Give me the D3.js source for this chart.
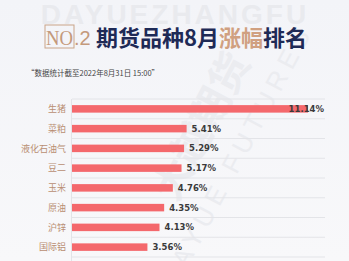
<!DOCTYPE html>
<html lang="zh">
<head>
<meta charset="UTF-8">
<title>期货品种8月涨幅排名</title>
<script src="https://d3js.org/d3.v7.min.js"></script>
<style>
    body { margin:0; background:#f5f6f9; }
    svg { display:block; }
</style>
</head>
<body>
<script>
// 数据
var categories = ['生猪','菜粕','液化石油气','豆二','玉米','原油','沪锌','国际铝'];
var values = [11.14, 5.41, 5.29, 5.17, 4.76, 4.35, 4.13, 3.56];

var width = 349, height = 261;
var padding = {top:99, left:72, right:24, bottom:4};

var svg = d3.select('body').append('svg')
    .attr('width', width)
    .attr('height', height);

// 背景
var grad = svg.append('defs').append('linearGradient')
    .attr('id','bg').attr('x1',0).attr('y1',0).attr('x2',0).attr('y2',1);
grad.append('stop').attr('offset','0%').attr('stop-color','#f3f4f8');
grad.append('stop').attr('offset','100%').attr('stop-color','#f8f8fa');
svg.append('rect').attr('width',width).attr('height',height).attr('fill','url(#bg)');

// 水印
svg.append('text')
    .attr('x', 175).attr('y', 24)
    .attr('text-anchor','middle')
    .attr('font-family','Liberation Sans, sans-serif')
    .attr('font-weight','bold')
    .attr('font-size', 28)
    .attr('letter-spacing', 3)
    .attr('fill','#e9eaee')
    .text('DAYUEZHANGFU');

var wm = svg.append('g').attr('transform','translate(225,150) rotate(-62)');
wm.append('text')
    .attr('text-anchor','middle')
    .attr('font-family','Noto Sans CJK SC, sans-serif')
    .attr('font-weight','bold')
    .attr('font-size', 40)
    .attr('fill','#ebecf0')
    .attr('x', 10).attr('y', -18)
    .text('大越期货');
wm.append('text')
    .attr('text-anchor','middle')
    .attr('font-family','Liberation Sans, sans-serif')
    .attr('font-size', 26)
    .attr('letter-spacing', 6)
    .attr('fill','#ebecf0')
    .attr('x', 0).attr('y', 22)
    .text('DAYUE FUTURES');

// 标题
svg.append('rect')
    .attr('x',45).attr('y',25).attr('width',29).attr('height',23)
    .attr('fill','none').attr('stroke','#c9a488').attr('stroke-width',1);
svg.append('text')
    .attr('x',46).attr('y',45)
    .attr('font-family','Liberation Serif, serif')
    .attr('font-size',22)
    .attr('fill','#c49a7c')
    .attr('textLength',27)
    .attr('lengthAdjust','spacingAndGlyphs')
    .text('NO');
svg.append('text')
    .attr('x',74).attr('y',45)
    .attr('font-family','Liberation Sans, sans-serif')
    .attr('font-size',20)
    .attr('fill','#c49a7c')
    .text('.2');

var title = svg.append('text')
    .attr('x',96).attr('y',46)
    .attr('font-family','Noto Sans CJK SC, sans-serif')
    .attr('font-weight','bold')
    .attr('font-size',22)
    .attr('fill','#1e2a56');
title.append('tspan').text('期货品种8月');
title.append('tspan').attr('fill','#d0a080').text('涨幅');
title.append('tspan').text('排名');

svg.append('text')
    .attr('x',27).attr('y',76)
    .attr('font-family','Noto Sans CJK SC, sans-serif')
    .attr('font-size',7.5)
    .attr('fill','#444')
    .text('“数据统计截至2022年8月31日 15:00”');

// 比例尺
var x = d3.scaleLinear()
    .domain([0, 11.14])
    .range([padding.left, 308]);

var y = d3.scaleBand()
    .domain(categories)
    .range([padding.top, padding.top + 19.75 * categories.length])
    .paddingInner(0.62)
    .paddingOuter(0.31);

var plotRight = width - padding.right;

// 网格线
var lines = d3.range(categories.length + 1).map(function (i) {
    return padding.top + i * y.step();
});
svg.selectAll('.grid')
    .data(lines)
    .enter()
    .append('line')
    .attr('class','grid')
    .attr('x1', padding.left).attr('x2', plotRight)
    .attr('y1', function (d) { return d; })
    .attr('y2', function (d) { return d; })
    .attr('stroke','#e3e4e8')
    .attr('stroke-width',1);

svg.append('line')
    .attr('x1', padding.left - 0.5).attr('x2', padding.left - 0.5)
    .attr('y1', padding.top).attr('y2', height)
    .attr('stroke','#e3e4e8');

// 柱子
svg.selectAll('.bar')
    .data(values)
    .enter()
    .append('rect')
    .attr('class','bar')
    .attr('x', x(0))
    .attr('y', function (d,i) { return y(categories[i]); })
    .attr('width', function (d) { return x(d) - x(0); })
    .attr('height', y.bandwidth())
    .attr('fill','#f4686c');

// 分类文字
svg.selectAll('.cat')
    .data(categories)
    .enter()
    .append('text')
    .attr('class','cat')
    .attr('x', padding.left - 6)
    .attr('y', function (d) { return y(d) + y.bandwidth() / 2; })
    .attr('dy','0.36em')
    .attr('text-anchor','end')
    .attr('font-family','Noto Sans CJK SC, sans-serif')
    .attr('font-size',9)
    .attr('fill','#b98e72')
    .text(function (d) { return d; });

// 数值文字
svg.selectAll('.val')
    .data(values)
    .enter()
    .append('text')
    .attr('class','val')
    .attr('y', function (d,i) { return y(categories[i]) + y.bandwidth() / 2; })
    .attr('dy','0.36em')
    .attr('font-family','DejaVu Sans, sans-serif')
    .attr('font-weight','bold')
    .attr('font-size',8.5)
    .attr('fill','#3a3a3a')
    .text(function (d) { return d.toFixed(2) + '%'; })
    .attr('x', function (d) {
        var w = this.getComputedTextLength();
        return Math.min(x(d) + 5, plotRight - w - 1);
    });
</script>
</body>
</html>
